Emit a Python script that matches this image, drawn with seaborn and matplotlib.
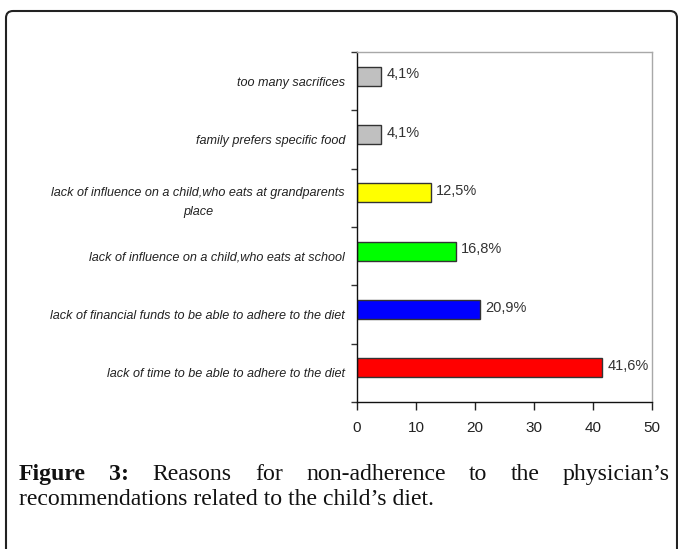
import matplotlib
matplotlib.use("Agg")
import matplotlib.pyplot as plt
import seaborn as sns
import pandas as pd
from matplotlib.patches import FancyBboxPatch
from matplotlib.ticker import FixedLocator
from matplotlib.transforms import IdentityTransform

# ---------------- data ----------------
categories = [
    "too many sacrifices",
    "family prefers specific food",
    "lack of influence on a child,who eats at grandparents\nplace",
    "lack of influence on a child,who eats at school",
    "lack of financial funds to be able to adhere to the diet",
    "lack of time to be able to adhere to the diet",
]
values = [4.1, 4.1, 12.5, 16.8, 20.9, 41.6]
value_labels = ["4,1%", "4,1%", "12,5%", "16,8%", "20,9%", "41,6%"]
bar_colors = ["#C0C0C0", "#C0C0C0", "#FFFF00", "#00FF00", "#0000FF", "#FF0000"]
x_ticks = [0, 10, 20, 30, 40, 50]
caption_line1 = [("Figure", "bold"), ("3:", "bold"), ("Reasons", "normal"), ("for", "normal"),
                 ("non-adherence", "normal"), ("to", "normal"), ("the", "normal"),
                 ("physician\u2019s", "normal")]
caption_line2 = "recommendations related to the child\u2019s diet."

# ---------------- style ----------------
sns.set_theme(style="white")
plt.rcParams["font.family"] = ["Liberation Sans", "DejaVu Sans"]

W, H = 678, 549
fig = plt.figure(figsize=(W / 100, H / 100), dpi=100)
fig.patch.set_facecolor("white")

# axes placement (pixels)
L, R, T, B = 357, 652, 52, 402
ax = fig.add_axes([L / W, 1 - B / H, (R - L) / W, (B - T) / H])

df = pd.DataFrame({"reason": categories, "value": values})
sns.barplot(data=df, x="value", y="reason", hue="reason", palette=bar_colors,
            orient="h", width=0.33, edgecolor="#333333", linewidth=1.0,
            saturation=1, legend=False, ax=ax)

slot = (B - T) / 6.0
off = 5.0 / slot
ax.set_ylim(5.5 + off, -0.5 + off)
ax.set_xlim(0, 50)
ax.set_xticks(x_ticks)
ax.set_xticklabels([str(t) for t in x_ticks])
ax.set_xlabel("")
ax.set_ylabel("")

ax.set_yticks([i + off for i in range(len(categories))])
ax.set_yticklabels(categories)
ax.yaxis.set_minor_locator(FixedLocator([-0.5 + off + k for k in range(7)]))

fig.canvas.draw()
renderer = fig.canvas.get_renderer()

# fit category label font size to reference width (~296 px)
probe = fig.text(0, 0, "lack of influence on a child,who eats at grandparents",
                 fontsize=10, fontstyle="italic", family="Liberation Sans")
pw = probe.get_window_extent(renderer).width
probe.remove()
cat_fs = 10 * 296.0 / pw

for t in ax.get_yticklabels():
    t.set_fontstyle("italic")
    t.set_fontsize(cat_fs)
    t.set_color("#222222")
    t.set_multialignment("center")
    t.set_linespacing(1.75)

ax.tick_params(axis="y", which="major", length=0, pad=12 * 0.72)
ax.tick_params(axis="y", which="minor", left=True, length=4, width=1,
               color="#333333", direction="out")
ax.tick_params(axis="x", which="major", bottom=True, length=5.5, width=1,
               color="#222222", direction="out", labelsize=11,
               labelcolor="#222222", pad=8.5)

for s in ["left", "bottom"]:
    ax.spines[s].set_color("#111111")
    ax.spines[s].set_linewidth(1.0)
for s in ["top", "right"]:
    ax.spines[s].set_color("#A8A8A8")
    ax.spines[s].set_linewidth(1.0)
    ax.spines[s].set_visible(True)

# value labels
for i, (v, lab) in enumerate(zip(values, value_labels)):
    ax.annotate(lab, xy=(v, i), xytext=(5 * 0.72, 2 * 0.72),
                textcoords="offset points", ha="left", va="center",
                fontsize=10.5, color="#333333")

# ---------------- caption ----------------
cap_family = "Liberation Serif"
probe = fig.text(0, 0, caption_line2, fontsize=10, family=cap_family)
pw = probe.get_window_extent(renderer).width
probe.remove()
cap_fs = 10 * 416.0 / pw

x_left, x_right = 19, 670
base1 = 480
base2 = 505

word_artists = []
widths = []
for w, wt in caption_line1:
    t = fig.text(0, (H - base1) / H, w, fontsize=cap_fs, family=cap_family,
                 fontweight=wt, color="#111111", va="baseline", ha="left")
    word_artists.append(t)
    widths.append(t.get_window_extent(renderer).width)
gap = ((x_right - x_left) - sum(widths)) / (len(widths) - 1)
x = x_left
for t, w in zip(word_artists, widths):
    t.set_x(x / W)
    x += w + gap

fig.text(x_left / W, (H - base2) / H, caption_line2, fontsize=cap_fs,
         family=cap_family, color="#111111", va="baseline", ha="left")

# ---------------- frame ----------------
frame = FancyBboxPatch((6, -30), 671, (H - 11) + 30, boxstyle="round,pad=0,rounding_size=7",
                       transform=IdentityTransform(), fill=False, lw=1.5,
                       ec="#222222")
fig.add_artist(frame)

fig.savefig("out.png", dpi=100)
